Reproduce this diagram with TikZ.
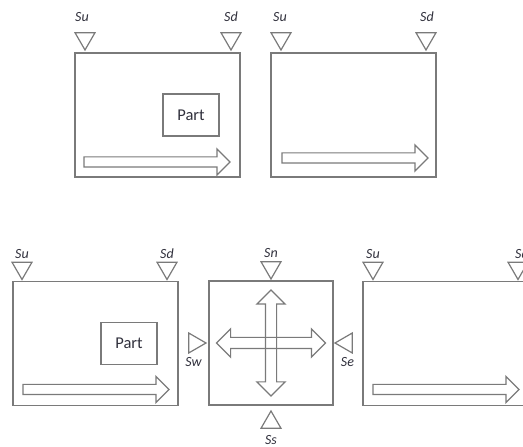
\documentclass[tikz,border=0pt]{standalone}
\usepackage{fontspec}
\setmainfont{Carlito}
\usetikzlibrary{shapes.geometric,shapes.arrows,calc}
\definecolor{linea}{RGB}{122,122,122}
\definecolor{texto}{RGB}{48,48,60}
\begin{document}
\begin{tikzpicture}[x=1pt, y=1pt,
      every node/.style={inner sep=0pt, outer sep=0pt},
      celda/.style={draw=linea, line width=1.4pt, minimum width=165, minimum height=124},
      pieza/.style={draw=linea, line width=1.3pt, minimum width=56, minimum height=42, text=texto, font=\fontsize{16.5}{16.5}\selectfont},
      sensor/.style={draw=linea, line width=1.2pt, regular polygon, regular polygon sides=3, minimum size=23, anchor=corner 1},
      sabajo/.style={sensor, shape border rotate=180},
      sarriba/.style={sensor},
      sdcha/.style={sensor, shape border rotate=-90},
      sizda/.style={sensor, shape border rotate=90},
      etiq/.style={anchor=base, text=texto, font=\itshape\fontsize{14}{14}\selectfont},
      avance/.style={draw=linea, line width=1.2pt, single arrow, inner ysep=4.5pt, minimum height=146, single arrow head extend=8, anchor=tail},
      cruz/.style={draw=linea, line width=1.2pt, double arrow, inner ysep=5pt, double arrow head extend=8.5}
    ]
    \useasboundingbox (0,0) rectangle (523,447);
    \clip (0,0) rectangle (523,447);
    % fila de arriba
    \node[celda] (c1) at (157.5,332) {};
    \node[celda] (c2) at (353.5,332) {};
    \node[pieza, anchor=east] (p1) at ($(c1.east)+(-21,0)$) {Part};
    \node[avance] (a1) at ($(c1.south west)+(9,15)$) {};
    \node[avance] (a2) at ($(c2.south west)+(11,19)$) {};
    \node[sabajo] (u1) at ($(c1.north west)+(10,3)$) {};
    \node[sabajo] (d1) at ($(c1.north east)+(-9,3)$) {};
    \node[sabajo] (u2) at ($(c2.north west)+(10,3)$) {};
    \node[sabajo] (d2) at ($(c2.north east)+(-10,3)$) {};
    \node[etiq] at ($(u1.north)+(-3,11)$) {Su};
    \node[etiq] at ($(d1.north)+(0,11)$) {Sd};
    \node[etiq] at ($(u2.north)+(-1,11)$) {Su};
    \node[etiq] at ($(d2.north)+(1,11)$) {Sd};
    % fila de abajo
    \node[celda] (c3) at (95.5,103.5) {};
    \node[celda, minimum width=124] (c4) at (271,104) {};
    \node[celda] (c5) at (445.5,103.5) {};
    \node[pieza, anchor=east] (p3) at ($(c3.east)+(-21,0)$) {Part};
    \node[avance] (a3) at ($(c3.south west)+(10,16)$) {};
    \node[avance] (a5) at ($(c5.south west)+(10,16)$) {};
    \node[cruz, minimum height=109] (h4) at (c4.center) {};
    \node[cruz, minimum height=106, rotate=90] (v4) at (c4.center) {};
    \node[sabajo] (u3) at ($(c3.north west)+(9,2)$) {};
    \node[sabajo] (d3) at ($(c3.north east)+(-11,2)$) {};
    \node[sabajo] (u5) at ($(c5.north west)+(10,2)$) {};
    \node[sabajo] (d5) at ($(c5.north east)+(-10,2)$) {};
    \node[sabajo] (sn) at ($(c4.north)+(0,2)$) {};
    \node[sarriba] (ss) at ($(c4.south)+(0,-6)$) {};
    \node[sdcha] (sw) at ($(c4.west)+(-3,0)$) {};
    \node[sizda] (se) at ($(c4.east)+(2,0)$) {};
    \node[etiq] at ($(u3.north)+(0,4)$) {Su};
    \node[etiq] at ($(d3.north)+(0,4)$) {Sd};
    \node[etiq] at ($(u5.north)+(0,4)$) {Su};
    \node[etiq] at ($(d5.north)+(4,4)$) {Sd};
    \node[etiq] at ($(sn.north)+(0,4)$) {Sn};
    \node[etiq] at ($(sw.south)+(-1,-17)$) {Sw};
    \node[etiq] at ($(se.south)+(1,-17)$) {Se};
    \node[etiq] at ($(ss.south)+(0,-16)$) {Ss};
  \end{tikzpicture}
\end{document}
